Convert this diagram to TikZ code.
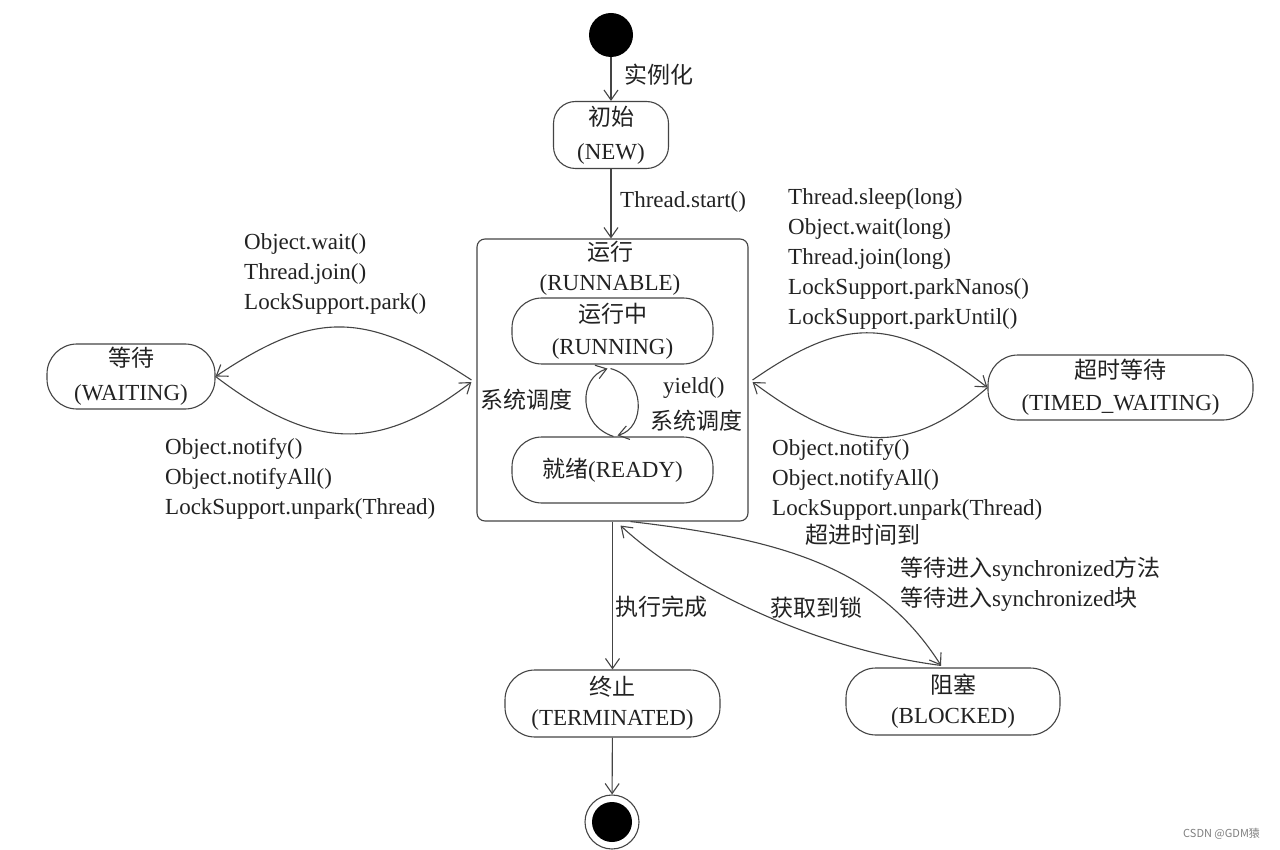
\documentclass[tikz,border=0pt]{standalone}
\usepackage{fontspec}
\setmainfont{Liberation Serif}
\newfontfamily\cjk{Noto Sans CJK SC}
\usetikzlibrary{arrows.meta}
\newcommand{\zhs}[1]{{\cjk #1}}
\definecolor{ink}{HTML}{222222}
\definecolor{linec}{HTML}{444444}
\begin{document}
\begin{tikzpicture}[x=1pt,y=-1pt,
  every node/.style={font=\fontsize{23}{30}\selectfont, text=ink},
  conn/.style={draw=linec, line width=1.1pt, -{Straight Barb[length=10pt,width=14pt]}},
  statebox/.style={draw=linec, line width=1.1pt, rounded corners=30pt, align=center, inner sep=0pt, minimum height=66pt},
  lbl/.style={inner sep=0pt, align=left, anchor=west}]
\useasboundingbox (0,0) rectangle (1280,850);
\fill[white] (0,0) rectangle (1280,850);

% start / end
\node[circle, fill=black, minimum size=44pt, inner sep=0pt] (start) at (611,35) {};
\node[circle, draw=linec, line width=1.1pt, minimum size=54pt, inner sep=0pt] (finish) at (612,822) {};
\fill[black] (finish.center) circle (20pt);

% states
\node[statebox, rounded corners=22pt, minimum width=115pt, minimum height=67pt] (new) at (611,135) {\zhs{初始}\\[4pt](NEW)};
\node[draw=linec, line width=1.1pt, rounded corners=8pt, minimum width=271pt, minimum height=282pt, inner sep=0pt] (runnable) at (612.5,380) {};
\node[inner sep=0pt, align=center] (runtitle) at (610,268) {\zhs{运行}\\(RUNNABLE)};
\node[statebox, minimum width=201pt] (running) at (612.5,331) {\zhs{运行中}\\[2pt](RUNNING)};
\node[statebox, minimum width=201pt] (ready) at (612.5,470) {\zhs{就绪}(READY)};
\node[statebox, minimum width=168pt, minimum height=65pt] (waiting) at (131,376.5) {\zhs{等待}\\[4pt](WAITING)};
\node[statebox, minimum width=265pt, minimum height=65pt] (timed) at (1120.5,387.5) {\zhs{超时等待}\\[2pt](TIMED\_WAITING)};
\node[statebox, minimum width=215pt, minimum height=67pt] (term) at (612.5,703.5) {\zhs{终止}\\[0pt](TERMINATED)};
\node[statebox, minimum width=214pt, minimum height=67pt] (blocked) at (953,701.5) {\zhs{阻塞}\\[0pt](BLOCKED)};

% vertical connectors
\draw[conn] (start) -- (new);
\draw[conn] (new) -- (runnable.north -| new.south);
\draw[conn] (runnable.south -| term.north) -- (term);
\draw[conn] (term) -- (finish);

% running <-> ready loop
\draw[conn] ([xshift=1pt]ready.north) .. controls (578,425) and (578,378) .. ([xshift=-5pt,yshift=-4pt]running.south);
\draw[conn] ([xshift=-2pt,yshift=-4pt]running.south) .. controls (646,378) and (646,428) .. ([xshift=5pt,yshift=1pt]ready.north);

% waiting lens
\draw[conn] ([xshift=-5pt]runnable.west) .. controls (365,310) and (315,310) .. (waiting.east);
\draw[conn] (waiting.east) .. controls (315,452) and (380,452) .. ([xshift=-5pt,yshift=-2pt]runnable.west);

% timed lens
\draw[conn] ([xshift=4pt]runnable.east) .. controls (845,316) and (895,316) .. (timed.west);
\draw[conn] (timed.west) .. controls (910,455) and (850,455) .. ([xshift=4pt,yshift=-2pt]runnable.east);

% blocked curves
\draw[conn] ([xshift=18pt]runnable.south) .. controls (790,540) and (880,570) .. ([xshift=-12pt,yshift=2pt]blocked.north);
\draw[conn] ([xshift=-12pt,yshift=2pt]blocked.north) .. controls (820,650) and (690,590) .. ([xshift=8pt,yshift=-4pt]runnable.south);

% labels
\node[lbl] (l1) at (624,75) {\zhs{实例化}};
\node[lbl] (l2) at (620,202) {Thread.start()};
\node[lbl] (l3) at (244,274) {Object.wait()\\Thread.join()\\LockSupport.park()};
\node[lbl] (l4) at (165,479) {Object.notify()\\Object.notifyAll()\\LockSupport.unpark(Thread)};
\node[lbl] (l5) at (788,259) {Thread.sleep(long)\\Object.wait(long)\\Thread.join(long)\\LockSupport.parkNanos()\\LockSupport.parkUntil()};
\node[lbl] (l6) at (772,480) {Object.notify()\\Object.notifyAll()\\LockSupport.unpark(Thread)};
\node[lbl] (l7) at (480,400) {\zhs{系统调度}};
\node[lbl] (l8) at (663,388) {yield()};
\node[lbl] (l9) at (650,421) {\zhs{系统调度}};
\node[lbl] (l10) at (805,535) {\zhs{超进时间到}};
\node[lbl] (l11) at (900,584.5) {\zhs{等待进入}synchronized\zhs{方法}\\\zhs{等待进入}synchronized\zhs{块}};
\node[lbl] (l12) at (770,608) {\zhs{获取到锁}};
\node[lbl] (l13) at (615,607) {\zhs{执行完成}};
\node[lbl, font=\cjk\fontsize{11}{13}\selectfont, text=gray] (wm) at (1183,834) {CSDN @GDM猿};
\end{tikzpicture}
\end{document}
